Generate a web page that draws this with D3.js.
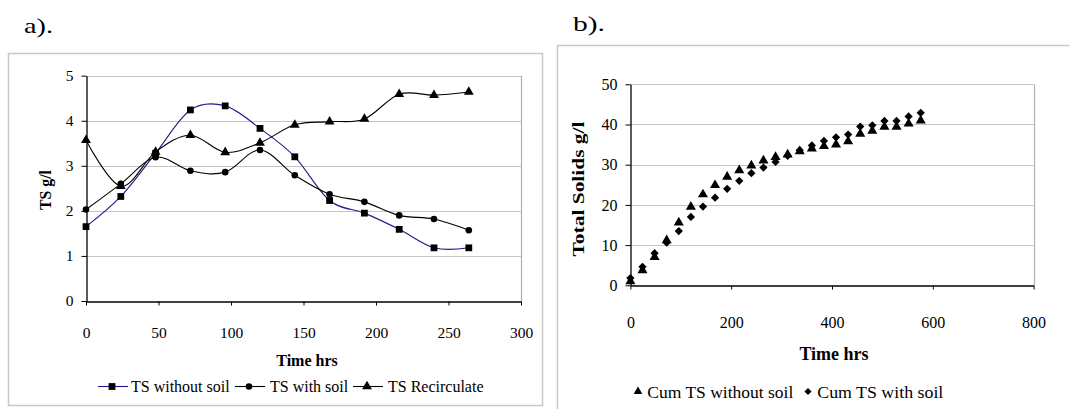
<!DOCTYPE html>
<html lang="en">
<head>
<meta charset="UTF-8">
<title>Total Solids</title>
<script src="https://d3js.org/d3.v7.min.js"></script>
<style>
  body { margin: 0; background: #fff; }
</style>
</head>
<body>
<div id="chart"></div>
<script>
// chart a) TS over time
const hoursA = [0, 24, 48, 72, 96, 120, 144, 168, 192, 216, 240, 264];
const tsWithoutSoil = [1.65, 2.32, 3.28, 4.24, 4.33, 3.83, 3.20, 2.23, 1.95, 1.59, 1.18, 1.18];
const tsWithSoil = [2.03, 2.60, 3.19, 2.89, 2.86, 3.35, 2.79, 2.37, 2.20, 1.90, 1.82, 1.57];
const tsRecirculate = [3.57, 2.55, 3.31, 3.68, 3.30, 3.51, 3.91, 3.98, 4.04, 4.59, 4.57, 4.64];
const ticksAX = [0, 50, 100, 150, 200, 250, 300];
const ticksAY = [0, 1, 2, 3, 4, 5];

// chart b) cumulative TS
const hoursB = [0, 24, 48, 72, 96, 120, 144, 168, 192, 216, 240, 264, 288, 312, 336, 360, 384, 408, 432, 456, 480, 504, 528, 552, 576];
const cumWithoutSoil = [1.0, 3.7, 7.0, 11.2, 15.6, 19.5, 22.6, 24.9, 27.0, 28.6, 29.8, 31.0, 31.9, 32.5, 33.3, 34.0, 34.6, 35.0, 35.8, 37.7, 38.4, 39.4, 39.4, 40.2, 41.0];
const cumWithSoil = [1.8, 4.6, 8.0, 10.6, 13.5, 17.0, 19.6, 21.8, 24.0, 26.0, 27.9, 29.3, 30.7, 32.2, 33.6, 34.8, 35.9, 36.8, 37.5, 39.5, 39.8, 40.9, 40.9, 42.0, 42.9];
const ticksBX = [0, 200, 400, 600, 800];
const ticksBY = [0, 10, 20, 30, 40, 50];

const FONT = "'Liberation Serif', 'Times New Roman', Times, serif";
const W = 1069, H = 409;
const svg = d3.select('#chart').append('svg')
  .attr('width', W).attr('height', H)
  .style('font-family', FONT);

// panel frames
svg.append('rect').attr('x', 8.5).attr('y', 53.5).attr('width', 534).attr('height', 352)
  .attr('fill', 'none').attr('stroke', '#c8c8c8').attr('stroke-width', 1.5);
svg.append('rect').attr('x', 557.5).attr('y', 45.5).attr('width', 530).attr('height', 400)
  .attr('fill', 'none').attr('stroke', '#c8c8c8').attr('stroke-width', 1.5);

// panel labels
svg.append('text').attr('x', 24).attr('y', 33).attr('font-size', 21)
  .attr('textLength', 29).attr('lengthAdjust', 'spacingAndGlyphs').text('a).');
svg.append('text').attr('x', 573).attr('y', 31).attr('font-size', 21)
  .attr('textLength', 32).attr('lengthAdjust', 'spacingAndGlyphs').text('b).');

function symbolPath(type, size) {
  return d3.symbol().type(type).size(size)();
}

function drawFrame(g, x, y, cfg) {
  const [x0, x1] = x.range();
  const [y0, y1] = y.range();
  // grid
  g.append('g').selectAll('line').data(cfg.yTicks.filter(d => d > 0)).join('line')
    .attr('x1', x0).attr('x2', x1)
    .attr('y1', d => Math.round(y(d)) + 0.5).attr('y2', d => Math.round(y(d)) + 0.5)
    .attr('stroke', '#c4c4c4').attr('stroke-width', 1.2);
  // right border of plot area
  g.append('line').attr('x1', Math.round(x1) + 0.5).attr('x2', Math.round(x1) + 0.5)
    .attr('y1', y1).attr('y2', y0).attr('stroke', '#b0b0b0').attr('stroke-width', 1.2);

  const xAxis = g.append('g').attr('transform', `translate(0,${Math.round(y0) + 0.5})`)
    .call(d3.axisBottom(x).tickValues(cfg.xTicks).tickSize(4).tickSizeOuter(0)
      .tickPadding(cfg.xPad).tickFormat(d3.format('d')));
  const yAxis = g.append('g').attr('transform', `translate(${Math.round(x0) + 0.5},0)`)
    .call(d3.axisLeft(y).tickValues(cfg.yTicks).tickSize(5).tickSizeOuter(0)
      .tickPadding(8).tickFormat(d3.format('d')));
  [xAxis, yAxis].forEach(a => {
    a.attr('font-family', null);
    a.select('.domain').attr('stroke', '#000').attr('stroke-width', 1.3);
    a.selectAll('.tick line').attr('stroke', '#000');
    a.selectAll('text').attr('font-size', cfg.tickFont).style('font-family', FONT);
  });

  g.append('text').attr('x', cfg.xTitleX).attr('y', cfg.xTitleY)
    .attr('text-anchor', 'middle').attr('font-weight', 'bold').attr('font-size', cfg.xTitleFont)
    .text(cfg.xTitle);
  g.append('text')
    .attr('transform', `translate(${cfg.yTitleX},${cfg.yTitleY}) rotate(-90)`)
    .attr('text-anchor', 'middle').attr('font-weight', 'bold').attr('font-size', 16)
    .attr('textLength', cfg.yTitleLen).attr('lengthAdjust', 'spacingAndGlyphs')
    .text(cfg.yTitle);
}

// ---------- chart a ----------
const xA = d3.scaleLinear().domain([0, 300]).range([86, 521]);
const yA = d3.scaleLinear().domain([0, 5]).range([301, 75.7]);
const gA = svg.append('g');
drawFrame(gA, xA, yA, {
  xTicks: ticksAX, yTicks: ticksAY, xPad: 21, tickFont: 15.5,
  xTitle: 'Time hrs', xTitleX: 307, xTitleY: 366, xTitleFont: 16,
  yTitle: 'TS g/l', yTitleX: 51, yTitleY: 190, yTitleLen: 40
});

const seriesA = [
  { name: 'TS without soil', values: tsWithoutSoil, color: '#1c1c8a', symbol: d3.symbolSquare, size: 46 },
  { name: 'TS with soil', values: tsWithSoil, color: '#000', symbol: d3.symbolCircle, size: 34 },
  { name: 'TS Recirculate', values: tsRecirculate, color: '#000', symbol: d3.symbolTriangle, size: 42 }
];
const lineA = d3.line().curve(d3.curveCatmullRom.alpha(0))
  .x(d => xA(d[0])).y(d => yA(d[1]));

seriesA.forEach(s => {
  const pts = hoursA.map((h, i) => [h, s.values[i]]);
  gA.append('path').datum(pts).attr('d', lineA)
    .attr('fill', 'none').attr('stroke', s.color).attr('stroke-width', 1.1);
});
seriesA.forEach(s => {
  const pts = hoursA.map((h, i) => [h, s.values[i]]);
  gA.append('g').selectAll('path').data(pts).join('path')
    .attr('d', symbolPath(s.symbol, s.size))
    .attr('transform', d => `translate(${xA(d[0])},${yA(d[1])})`)
    .attr('fill', '#000');
});

// legend a
const legA = [
  { lx: 98, tx: 131 },
  { lx: 235, tx: 270 },
  { lx: 353, tx: 388 }
];
seriesA.forEach((s, i) => {
  const p = legA[i];
  const ly = 386.5;
  svg.append('line').attr('x1', p.lx).attr('x2', p.lx + 30).attr('y1', ly).attr('y2', ly)
    .attr('stroke', s.color).attr('stroke-width', 1.1);
  svg.append('path').attr('d', symbolPath(s.symbol, s.size))
    .attr('transform', `translate(${p.lx + 14},${ly})`).attr('fill', '#000');
  svg.append('text').attr('x', p.tx).attr('y', ly + 5.5).attr('font-size', 16).text(s.name);
});

// ---------- chart b ----------
const xB = d3.scaleLinear().domain([0, 800]).range([630.4, 1033.6]);
const yB = d3.scaleLinear().domain([0, 50]).range([285.3, 84.3]);
const gB = svg.append('g');
drawFrame(gB, xB, yB, {
  xTicks: ticksBX, yTicks: ticksBY, xPad: 27, tickFont: 16,
  xTitle: 'Time hrs', xTitleX: 834, xTitleY: 360, xTitleFont: 18,
  yTitle: 'Total Solids g/l', yTitleX: 584, yTitleY: 189, yTitleLen: 135
});

// diamond = square turned by 45 degrees (Excel style, wider than d3's diamond)
const seriesB = [
  { name: 'Cum TS without soil', values: cumWithoutSoil, symbol: d3.symbolTriangle, size: 44, rot: 0 },
  { name: 'Cum TS with soil', values: cumWithSoil, symbol: d3.symbolSquare, size: 34, rot: 45 }
];
seriesB.forEach(s => {
  const pts = hoursB.map((h, i) => [h, s.values[i]]);
  gB.append('g').selectAll('path').data(pts).join('path')
    .attr('d', symbolPath(s.symbol, s.size))
    .attr('transform', d => `translate(${xB(d[0])},${yB(d[1])}) rotate(${s.rot})`)
    .attr('fill', '#000');
});

// legend b
const legB = [
  { mx: 638, tx: 647.3, len: 146 },
  { mx: 808, tx: 817.3, len: 126 }
];
seriesB.forEach((s, i) => {
  const p = legB[i];
  const ly = 391.5;
  svg.append('path').attr('d', symbolPath(s.symbol, s.size * 0.75))
    .attr('transform', `translate(${p.mx},${ly}) rotate(${s.rot})`).attr('fill', '#000');
  svg.append('text').attr('x', p.tx).attr('y', ly + 6).attr('font-size', 17.5)
    .attr('textLength', p.len).attr('lengthAdjust', 'spacingAndGlyphs').text(s.name);
});
</script>
</body>
</html>
